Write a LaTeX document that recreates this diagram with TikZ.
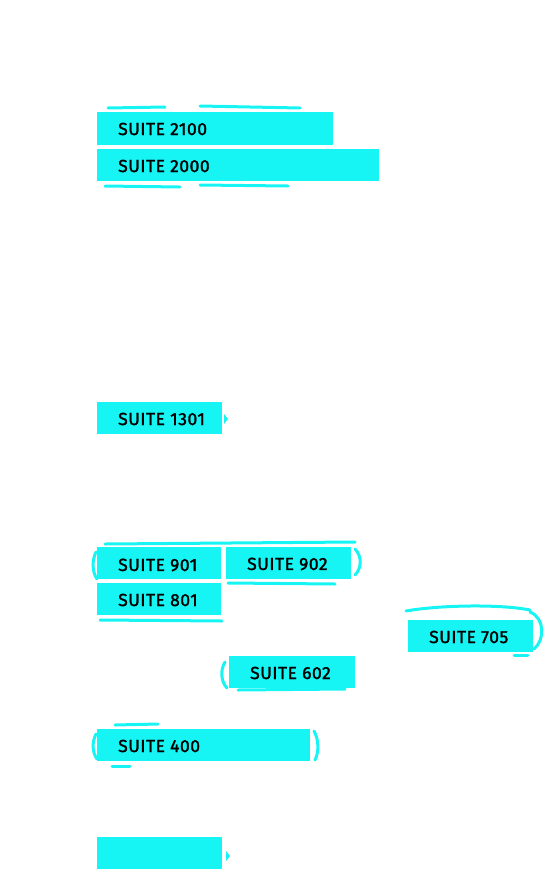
\documentclass[tikz,border=0pt]{standalone}
\usepackage{fontspec}
\setmainfont{Fira Sans}
\newfontfamily\suitefont[LetterSpace=3,FakeBold=1.5]{Fira Sans}
\definecolor{suitecyan}{RGB}{22,244,244}
\begin{document}
\begin{tikzpicture}[x=1pt,y=-1pt,
  suitebox/.style={fill=suitecyan, draw=none, inner sep=0pt, anchor=north west},
  suitelabel/.style={anchor=west, inner sep=0pt, font=\suitefont\fontsize{17.5}{17.5}\selectfont, text=black},
  brush/.style={draw=suitecyan, line width=3pt, line cap=round}]
\useasboundingbox (0,0) rectangle (545,873);
% brush strokes
\draw[brush] (108,108) -- (165,107) (200,106) -- (300,108);
\draw[brush] (105,186) -- (180,187) (200,185) -- (288,186);
\draw[brush] (96,552) .. controls (92,560) and (92,572) .. (97,579);
\draw[brush] (105,544) -- (355,542);
\draw[brush] (355,549) .. controls (362,556) and (362,568) .. (355,575);
\draw[brush] (228,583) -- (335,584);
\draw[brush] (100,620) -- (222,621);
\draw[brush] (406,611) .. controls (440,605) and (500,604) .. (530,610);
\draw[brush] (530,612) .. controls (545,618) and (545,640) .. (534,649);
\draw[brush] (514,655) -- (528,655);
\draw[brush] (225,662) .. controls (220,670) and (221,682) .. (227,688);
\draw[brush] (238,690) -- (345,689);
\draw[brush] (96,734) .. controls (92,742) and (92,752) .. (97,759);
\draw[brush] (314,731) .. controls (319,740) and (319,752) .. (315,760);
\draw[brush] (112,766) -- (130,766);
\draw[brush] (115,725) -- (158,724);
% boxes
\node[suitebox, minimum width=236pt, minimum height=33pt] (s2100) at (97,112) {};
\node[suitelabel] (t2100) at (118,129) {SUITE 2100};
\node[suitebox, minimum width=282pt, minimum height=32pt] (s2000) at (97,149) {};
\node[suitelabel] (t2000) at (118,166) {SUITE 2000};
\node[suitebox, minimum width=125pt, minimum height=32pt] (s1301) at (97,402) {};
\node[suitelabel] (t1301) at (118,419) {SUITE 1301};
\fill[suitecyan] (224,414) -- (228,419) -- (224,424) -- cycle;
\node[suitebox, minimum width=124pt, minimum height=32pt] (s901) at (97,547) {};
\node[suitelabel] (t901) at (118,565) {SUITE 901};
\node[suitebox, minimum width=125pt, minimum height=32pt] (s902) at (226,547) {};
\node[suitelabel] (t902) at (247,564) {SUITE 902};
\node[suitebox, minimum width=124pt, minimum height=32pt] (s801) at (97,583) {};
\node[suitelabel] (t801) at (118,600) {SUITE 801};
\node[suitebox, minimum width=125pt, minimum height=32pt] (s705) at (408,620) {};
\node[suitelabel] (t705) at (429,637) {SUITE 705};
\node[suitebox, minimum width=126pt, minimum height=32pt] (s602) at (229,656) {};
\node[suitelabel] (t602) at (250,673) {SUITE 602};
\node[suitebox, minimum width=213pt, minimum height=32pt] (s400) at (97,729) {};
\node[suitelabel] (t400) at (118,746) {SUITE 400};
\node[suitebox, minimum width=125pt, minimum height=32pt] (sbot) at (97,837) {};
\fill[suitecyan] (226,851) -- (230,856) -- (226,861) -- cycle;
\end{tikzpicture}
\end{document}
